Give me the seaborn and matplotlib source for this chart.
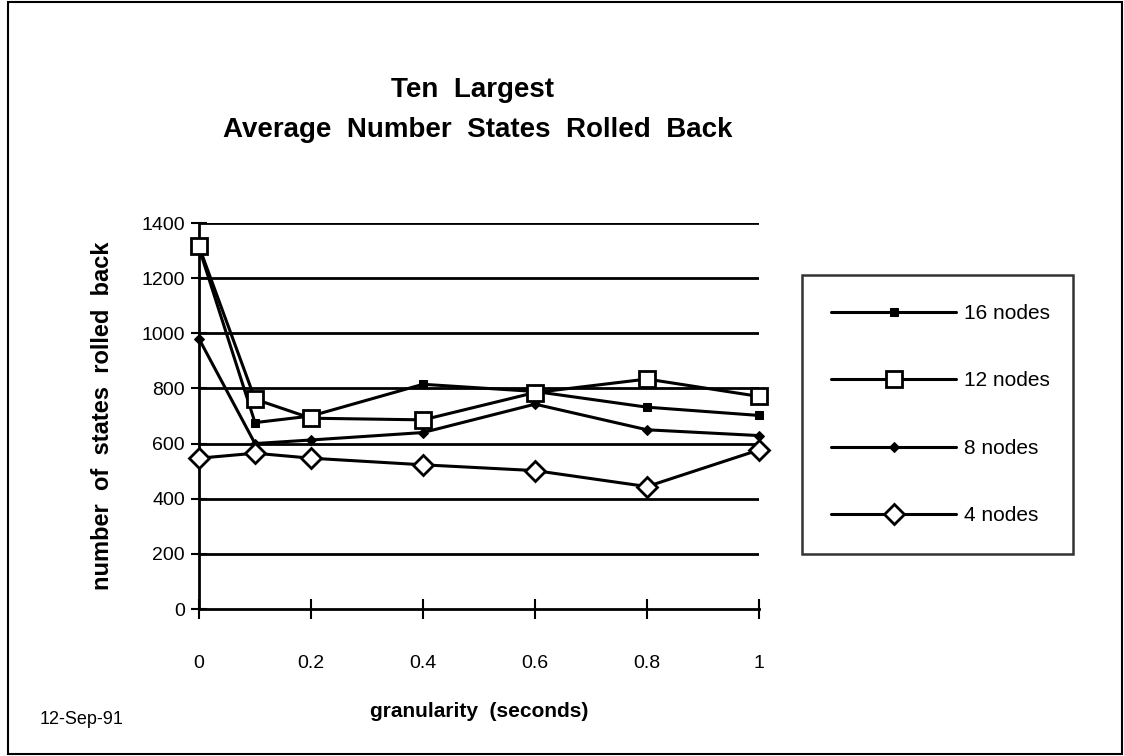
import matplotlib
matplotlib.use("Agg")
import matplotlib.pyplot as plt
import seaborn as sns
import pandas as pd
from matplotlib.patches import Rectangle

granularity = [0, 0.1, 0.2, 0.4, 0.6, 0.8, 1.0]
nodes16 = [1310, 676, 700, 815, 789, 732, 702]
nodes12 = [1315, 761, 692, 686, 785, 834, 771]
nodes8 = [980, 600, 613, 640, 743, 650, 629]
nodes4 = [547, 565, 547, 523, 502, 444, 577]
series_labels = ["16 nodes", "12 nodes", "8 nodes", "4 nodes"]
x_ticks = [0, 0.2, 0.4, 0.6, 0.8, 1]
x_tick_labels = ["0", "0.2", "0.4", "0.6", "0.8", "1"]
y_ticks = [0, 200, 400, 600, 800, 1000, 1200, 1400]

sns.set_style("white", {"xtick.bottom": True, "ytick.left": True})
plt.rcParams["font.family"] = ["Liberation Sans", "DejaVu Sans"]
plt.rcParams["text.color"] = "black"
plt.rcParams["axes.labelcolor"] = "black"

fig = plt.figure(figsize=(11.24, 7.56), dpi=100)
ax = fig.add_axes([199 / 1124, 1 - 609 / 756, 560 / 1124, (609 - 223) / 756])

styles = {
    "16 nodes": dict(marker="s", markersize=6, markerfacecolor="black", markeredgecolor="black"),
    "12 nodes": dict(marker="s", markersize=11, markerfacecolor="white", markeredgecolor="black", markeredgewidth=2),
    "8 nodes": dict(marker="D", markersize=5, markerfacecolor="black", markeredgecolor="black"),
    "4 nodes": dict(marker="D", markersize=10, markerfacecolor="white", markeredgecolor="black", markeredgewidth=2),
}
data = {"16 nodes": nodes16, "12 nodes": nodes12, "8 nodes": nodes8, "4 nodes": nodes4}
zorders = {"16 nodes": 4, "12 nodes": 6, "8 nodes": 3, "4 nodes": 5}

for lab in series_labels:
    df = pd.DataFrame({"x": granularity, "y": data[lab]})
    sns.lineplot(data=df, x="x", y="y", ax=ax, color="black", linewidth=2.2,
                 label=lab, zorder=zorders[lab], clip_on=False, **styles[lab])

ax.set_xlim(0, 1)
ax.set_ylim(0, 1400)
ax.set_yticks(y_ticks)
ax.set_xticks(x_ticks)
ax.set_xticklabels(x_tick_labels)
for yv in y_ticks[1:]:
    ax.axhline(yv, color="black", linewidth=2, zorder=1)

for s in ["top", "right"]:
    ax.spines[s].set_visible(False)
for s in ["left", "bottom"]:
    ax.spines[s].set_color("black")
    ax.spines[s].set_linewidth(2)

ax.tick_params(axis="x", bottom=True, direction="inout", length=14, width=1.5, pad=26,
               labelsize=14, colors="black")
ax.tick_params(axis="y", left=True, direction="inout", length=12, width=1.5, pad=4,
               labelsize=14, colors="black")

ax.set_xlabel("granularity  (seconds)", fontsize=15, fontweight="bold", labelpad=22, color="black")
ax.set_ylabel("number  of  states  rolled  back", fontsize=17, fontweight="bold", labelpad=20, color="black")

fig.text(0.42, 1 - 90 / 756, "Ten  Largest", ha="center", va="center", fontsize=20,
         fontweight="bold", color="black")
fig.text(0.425, 1 - 130 / 756, "Average  Number  States  Rolled  Back", ha="center", va="center",
         fontsize=20, fontweight="bold", color="black")
fig.text(40 / 1124, 1 - 719 / 756, "12-Sep-91", ha="left", va="center", fontsize=13, color="black")

leg = ax.legend(loc="upper left", bbox_to_anchor=(802 / 1124, 1 - 560 / 756, 271 / 1124, 285 / 756),
                bbox_transform=fig.transFigure, mode="expand", fontsize=15, frameon=True,
                fancybox=False, shadow=False, edgecolor="black", handlelength=6.0,
                handletextpad=0.4, labelspacing=2.32, borderpad=1.4, borderaxespad=0)
leg.get_frame().set_linewidth(1.8)
for t in leg.get_texts():
    t.set_color("black")

fig.patches.append(Rectangle((8 / 1124, 0.002), 1 - 10 / 1124, 1 - 4 / 756, transform=fig.transFigure,
                             fill=False, edgecolor="black", linewidth=1.5))

fig.savefig("out.png", dpi=100, facecolor="white")
